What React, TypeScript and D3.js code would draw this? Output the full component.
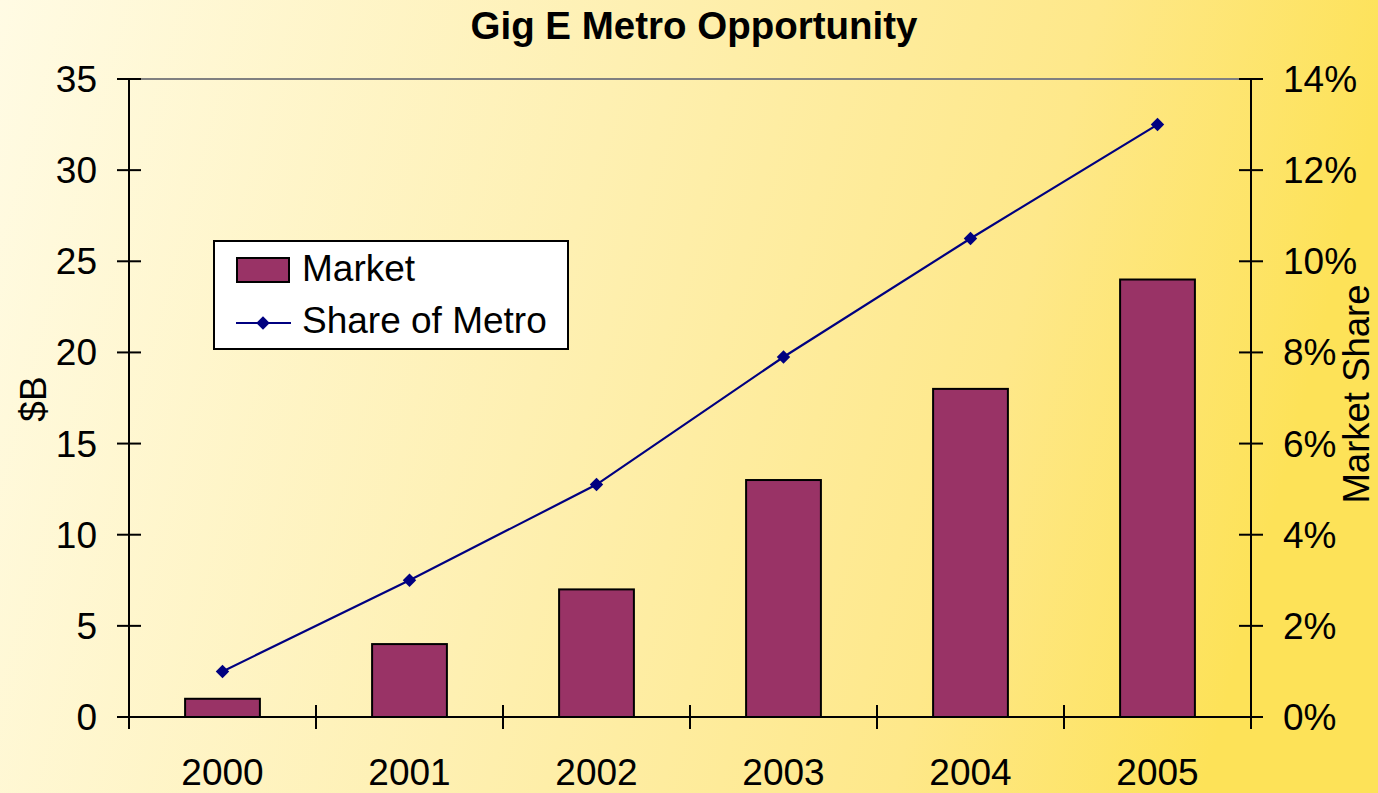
import React from "react";
import * as d3 from "d3";

const years = ["2000", "2001", "2002", "2003", "2004", "2005"];
const marketValues = [1, 4, 7, 13, 18, 24];
const shareValues = [0.01, 0.03, 0.051, 0.079, 0.105, 0.13];
const leftTicks = [0, 5, 10, 15, 20, 25, 30, 35];
const rightTicks = [0, 0.02, 0.04, 0.06, 0.08, 0.1, 0.12, 0.14];

const W = 1378;
const H = 793;
const FONT = "'Liberation Sans', Arial, Helvetica, sans-serif";

export default function App() {
  const left = 129;
  const right = 1251;
  const top = 79;
  const bottom = 717;

  const x = d3.scaleBand<string>().domain(years).range([left, right]).paddingInner(0.6).paddingOuter(0.3);
  const xStep = (right - left) / years.length;
  const yL = d3.scaleLinear().domain([0, 35]).range([bottom, top]);
  const yR = d3.scaleLinear().domain([0, 0.14]).range([bottom, top]);
  const fmtPct = d3.format(".0%");

  const lineGen = d3
    .line<number>()
    .x((_, i) => (x(years[i]) as number) + x.bandwidth() / 2)
    .y((d) => yR(d));

  const diamond = d3.symbol().type(d3.symbolDiamond2).size(115)();

  const boundaries = d3.range(years.length + 1).map((i) => left + i * xStep);

  return (
    <svg
      width={W}
      height={H}
      style={{ position: "absolute", left: 0, top: 0, display: "block" }}
      fontFamily={FONT}
    >
      <defs>
        <linearGradient id="bg" x1="0" y1="0" x2="1" y2="0.15">
          <stop offset="0" stopColor="#FFFBE4" />
          <stop offset="0.45" stopColor="#FEF0B2" />
          <stop offset="0.78" stopColor="#FEE88A" />
          <stop offset="1" stopColor="#FDE258" />
        </linearGradient>
      </defs>
      <rect x={0} y={0} width={W} height={H} fill="url(#bg)" />

      <text x={694} y={39} textAnchor="middle" fontSize={38.5} fontWeight="bold" fill="#000">
        Gig E Metro Opportunity
      </text>

      {/* top border of plot area */}
      <line x1={left} x2={right} y1={top} y2={top} stroke="#808080" strokeWidth={2} />

      {/* bars */}
      {years.map((yr, i) => (
        <rect
          key={yr}
          x={x(yr)}
          y={yL(marketValues[i])}
          width={x.bandwidth()}
          height={yL(0) - yL(marketValues[i])}
          fill="#993366"
          stroke="#000"
          strokeWidth={2}
        />
      ))}

      {/* line */}
      <path d={lineGen(shareValues) || ""} fill="none" stroke="#000080" strokeWidth={2.2} />
      {shareValues.map((v, i) => (
        <path
          key={i}
          d={diamond || ""}
          transform={`translate(${(x(years[i]) as number) + x.bandwidth() / 2},${yR(v)})`}
          fill="#000080"
        />
      ))}

      {/* left axis */}
      <line x1={left} x2={left} y1={top} y2={bottom} stroke="#000" strokeWidth={2} />
      {leftTicks.map((t) => (
        <g key={t}>
          <line x1={left - 12} x2={left + 12} y1={yL(t)} y2={yL(t)} stroke="#000" strokeWidth={2} />
          <text x={97} y={yL(t) + 13} textAnchor="end" fontSize={37} fill="#000">
            {t}
          </text>
        </g>
      ))}

      {/* right axis */}
      <line x1={right} x2={right} y1={top} y2={bottom + 12} stroke="#000" strokeWidth={2} />
      {rightTicks.map((t) => (
        <g key={t}>
          <line x1={right - 12} x2={right + 12} y1={yR(t)} y2={yR(t)} stroke="#000" strokeWidth={2} />
          <text x={1283} y={yR(t) + 13} textAnchor="start" fontSize={37} fill="#000">
            {fmtPct(t)}
          </text>
        </g>
      ))}

      {/* x axis */}
      <line x1={left - 12} x2={right + 12} y1={bottom} y2={bottom} stroke="#000" strokeWidth={2} />
      {boundaries.map((b, i) => (
        <line key={i} x1={b} x2={b} y1={bottom - 12} y2={bottom + 12} stroke="#000" strokeWidth={2} />
      ))}
      {years.map((yr) => (
        <text
          key={yr}
          x={(x(yr) as number) + x.bandwidth() / 2}
          y={785}
          textAnchor="middle"
          fontSize={37}
          fill="#000"
        >
          {yr}
        </text>
      ))}

      {/* axis titles */}
      <text transform="translate(46,399) rotate(-90)" textAnchor="middle" fontSize={37} fill="#000">
        $B
      </text>
      <text transform="translate(1369,394) rotate(-90)" textAnchor="middle" fontSize={36.5} fill="#000">
        Market Share
      </text>

      {/* legend */}
      <rect x={214} y={241} width={354} height={108} fill="#fff" stroke="#000" strokeWidth={2} />
      <rect x={237} y={258} width={52} height={24} fill="#993366" stroke="#000" strokeWidth={2} />
      <text x={302} y={281} fontSize={37} fill="#000">
        Market
      </text>
      <line x1={236} x2={291} y1={323} y2={323} stroke="#000080" strokeWidth={2.2} />
      <path d={diamond || ""} transform="translate(263,323)" fill="#000080" />
      <text x={302} y={333} fontSize={37} fill="#000">
        Share of Metro
      </text>
    </svg>
  );
}
